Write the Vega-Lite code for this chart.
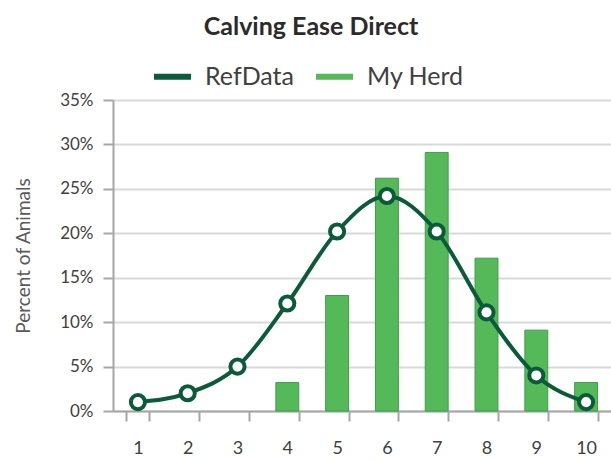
{
  "$schema": "https://vega.github.io/schema/vega-lite/v6.json",
  "autosize": {"type": "none"},
  "padding": {"left": 113, "top": 100, "right": 0, "bottom": 49},
  "width": 498,
  "height": 311,
  "background": "white",
  "config": {
    "font": "Lato",
    "view": {"stroke": null}
  },
  "title": {
    "text": "Calving Ease Direct",
    "font": "Lato",
    "fontSize": 25,
    "fontWeight": "bold",
    "color": "#2b2b2b",
    "anchor": "middle",
    "dx": -51,
    "offset": 15
  },
  "data": {
    "values": [
      {"score": "1", "ref": 0.010, "herd": 0},
      {"score": "2", "ref": 0.020, "herd": 0},
      {"score": "3", "ref": 0.050, "herd": 0},
      {"score": "4", "ref": 0.121, "herd": 0.032},
      {"score": "5", "ref": 0.202, "herd": 0.130},
      {"score": "6", "ref": 0.242, "herd": 0.262},
      {"score": "7", "ref": 0.202, "herd": 0.291},
      {"score": "8", "ref": 0.111, "herd": 0.172},
      {"score": "9", "ref": 0.040, "herd": 0.091},
      {"score": "10", "ref": 0.010, "herd": 0.032}
    ]
  },
  "encoding": {
    "x": {
      "field": "score",
      "type": "ordinal",
      "scale": {"domain": ["1", "2", "3", "4", "5", "6", "7", "8", "9", "10"], "paddingInner": 0.54, "paddingOuter": 0.27},
      "axis": {
        "title": null,
        "labelAngle": 0,
        "labelFontSize": 18,
        "labelColor": "#404040",
        "labelPadding": 18,
        "tickBand": "extent",
        "tickSize": 10,
        "tickWidth": 2,
        "tickColor": "#a6a6a6",
        "domainColor": "#a6a6a6",
        "domainWidth": 2,
        "grid": false
      }
    }
  },
  "layer": [
    {
      "transform": [{"filter": "datum.herd > 0"}],
      "mark": {"type": "bar", "stroke": "#3d9e47", "strokeWidth": 1},
      "encoding": {
        "y": {
          "field": "herd",
          "type": "quantitative",
          "scale": {"domain": [0, 0.35]},
          "axis": {
            "title": "Percent of Animals",
            "titleFontSize": 19,
            "titleFontWeight": "normal",
            "titleColor": "#595959",
            "titlePadding": 26,
            "format": ".0%",
            "values": [0, 0.05, 0.1, 0.15, 0.2, 0.25, 0.3, 0.35],
            "labelFontSize": 17,
            "labelColor": "#404040",
            "labelPadding": 10,
            "tickSize": 10,
            "tickWidth": 2,
            "tickColor": "#a6a6a6",
            "domainColor": "#a6a6a6",
            "domainWidth": 2,
            "gridColor": "#d9d9d9",
            "gridWidth": 2
          }
        },
        "color": {
          "datum": "My Herd",
          "type": "nominal",
          "scale": {"domain": ["RefData", "My Herd"], "range": ["#0b5b3b", "#55b95a"]},
          "legend": {
            "title": null,
            "orient": "none",
            "direction": "horizontal",
            "legendX": 38,
            "legendY": -45,
            "symbolType": "stroke",
            "symbolSize": 1369,
            "symbolStrokeWidth": 6,
            "labelFontSize": 25,
            "labelColor": "#404040",
            "labelOffset": 11,
            "columnPadding": 10,
            "encode": {
              "symbols": {
                "update": {
                  "stroke": {"field": "value", "scale": "color"},
                  "strokeWidth": {"value": 6}
                }
              }
            }
          }
        }
      }
    },
    {
      "mark": {"type": "line", "interpolate": "monotone", "strokeWidth": 4},
      "encoding": {
        "y": {"field": "ref", "type": "quantitative"},
        "color": {"datum": "RefData", "type": "nominal"}
      }
    },
    {
      "mark": {"type": "point", "filled": true, "fill": "white", "stroke": "#0b5b3b", "strokeWidth": 4, "size": 200, "opacity": 1},
      "encoding": {
        "y": {"field": "ref", "type": "quantitative"}
      }
    }
  ]
}
